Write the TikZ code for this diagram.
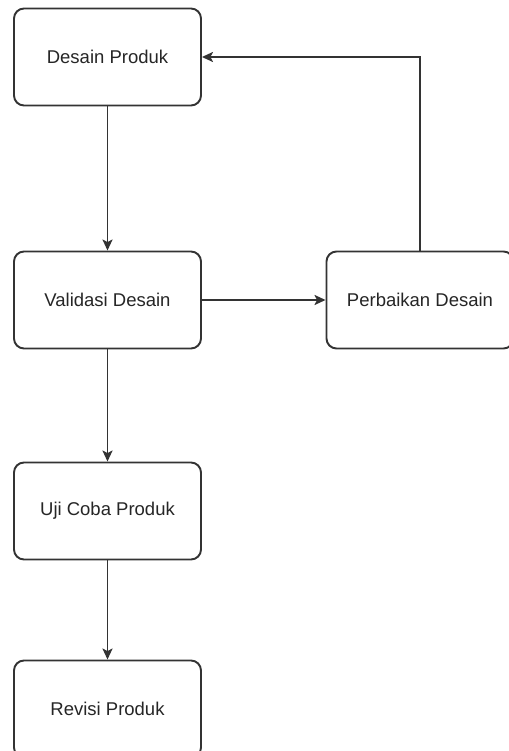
\documentclass[tikz,border=0pt]{standalone}
\usepackage{fontspec}
\setmainfont{Liberation Sans}
\usetikzlibrary{arrows.meta}

\begin{document}
\begin{tikzpicture}[x=1pt,y=-1pt,
  stepbox/.style={draw=black!80, line width=1.9pt, rounded corners=10pt, fill=white,
    minimum width=187pt, minimum height=97pt, inner sep=0pt, text=black!85,
    font=\fontsize{18.5}{21}\selectfont},
  flow/.style={draw=black!80, line width=1.9pt,
    -{Stealth[length=11pt,width=10pt,inset=2.5pt]}}]
  \useasboundingbox (0,0) rectangle (508,751);

  \node[stepbox] (desain) at (107.5,57) {Desain Produk};
  \node[stepbox] (validasi) at (107.5,300) {Validasi Desain};
  \node[stepbox] (perbaikan) at (420,300) {Perbaikan Desain};
  \node[stepbox] (ujicoba) at (107.5,511) {Uji Coba Produk};
  \node[stepbox] (revisi) at (107.5,709) {Revisi Produk};

  \draw[flow] (desain) -- (validasi);
  \draw[flow] (validasi) -- (perbaikan);
  \draw[flow] (perbaikan.north) |- (desain.east);
  \draw[flow] (validasi) -- (ujicoba);
  \draw[flow] (ujicoba) -- (revisi);
\end{tikzpicture}
\end{document}
